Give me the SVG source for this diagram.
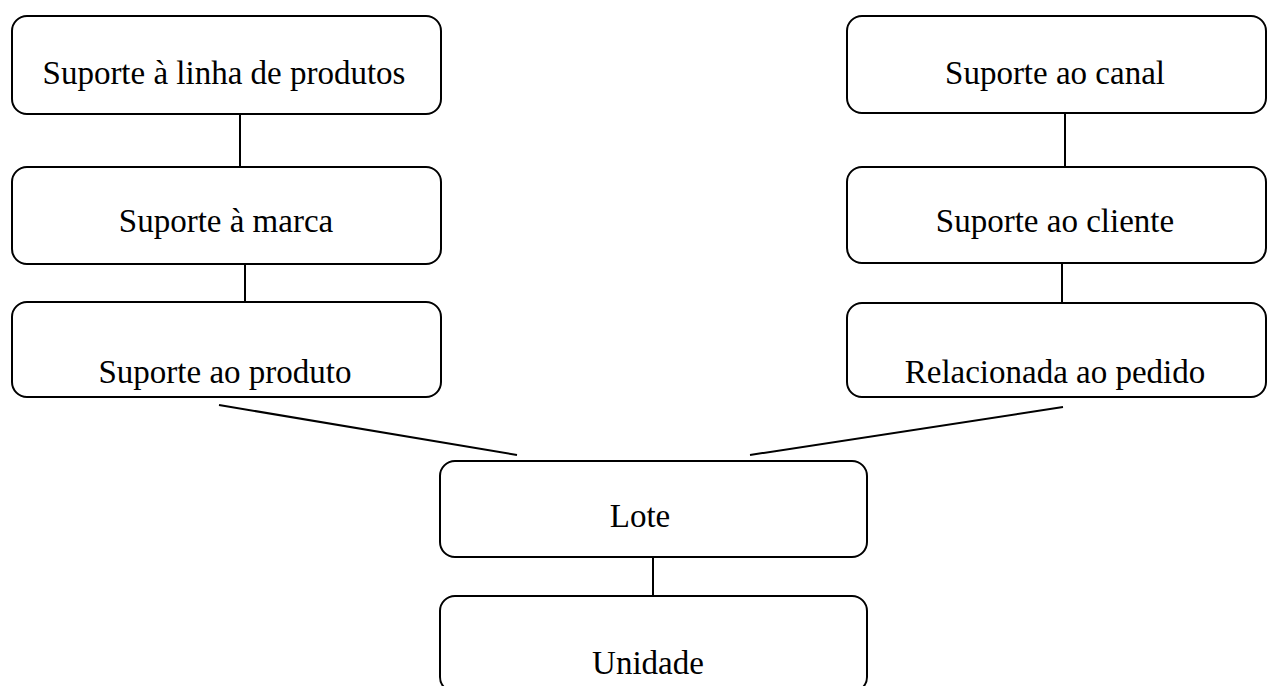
<svg xmlns="http://www.w3.org/2000/svg" width="1268" height="686" viewBox="0 0 1268 686">
  <style>
    .box { fill: #ffffff; stroke: #000000; stroke-width: 2; }
    .lbl { font-family: "Liberation Serif", "Times New Roman", serif; font-size: 33px; fill: #000000; text-anchor: middle; }
    .link { stroke: #000000; stroke-width: 2; fill: none; }
  </style>
  <rect width="1268" height="686" fill="#ffffff"/>

  <!-- connectors -->
  <g id="connectors">
    <line class="link" x1="240" y1="114" x2="240" y2="167"/>
    <line class="link" x1="245" y1="264" x2="245" y2="302"/>
    <line class="link" x1="1065" y1="113" x2="1065" y2="167"/>
    <line class="link" x1="1062" y1="263" x2="1062" y2="303"/>
    <line class="link" x1="219" y1="405" x2="517" y2="455"/>
    <line class="link" x1="1063" y1="407" x2="750" y2="455"/>
    <line class="link" x1="653" y1="557" x2="653" y2="596"/>
  </g>

  <!-- left column -->
  <g id="linha-produtos">
    <rect class="box" x="12" y="16" width="429" height="98" rx="15" ry="15"/>
    <text class="lbl" x="224" y="84">Suporte à linha de produtos</text>
  </g>
  <g id="marca">
    <rect class="box" x="12" y="167" width="429" height="97" rx="15" ry="15"/>
    <text class="lbl" x="226" y="232">Suporte à marca</text>
  </g>
  <g id="produto">
    <rect class="box" x="12" y="302" width="429" height="95" rx="15" ry="15"/>
    <text class="lbl" x="225" y="383">Suporte ao produto</text>
  </g>

  <!-- right column -->
  <g id="canal">
    <rect class="box" x="847" y="16" width="419" height="97" rx="15" ry="15"/>
    <text class="lbl" x="1055" y="84">Suporte ao canal</text>
  </g>
  <g id="cliente">
    <rect class="box" x="847" y="167" width="419" height="96" rx="15" ry="15"/>
    <text class="lbl" x="1055" y="232">Suporte ao cliente</text>
  </g>
  <g id="pedido">
    <rect class="box" x="847" y="303" width="419" height="94" rx="15" ry="15"/>
    <text class="lbl" x="1055" y="383">Relacionada ao pedido</text>
  </g>

  <!-- bottom stack -->
  <g id="lote">
    <rect class="box" x="440" y="461" width="427" height="96" rx="15" ry="15"/>
    <text class="lbl" x="640" y="527">Lote</text>
  </g>
  <g id="unidade">
    <rect class="box" x="440" y="596" width="427" height="96" rx="15" ry="15"/>
    <text class="lbl" x="648" y="674">Unidade</text>
  </g>
</svg>
